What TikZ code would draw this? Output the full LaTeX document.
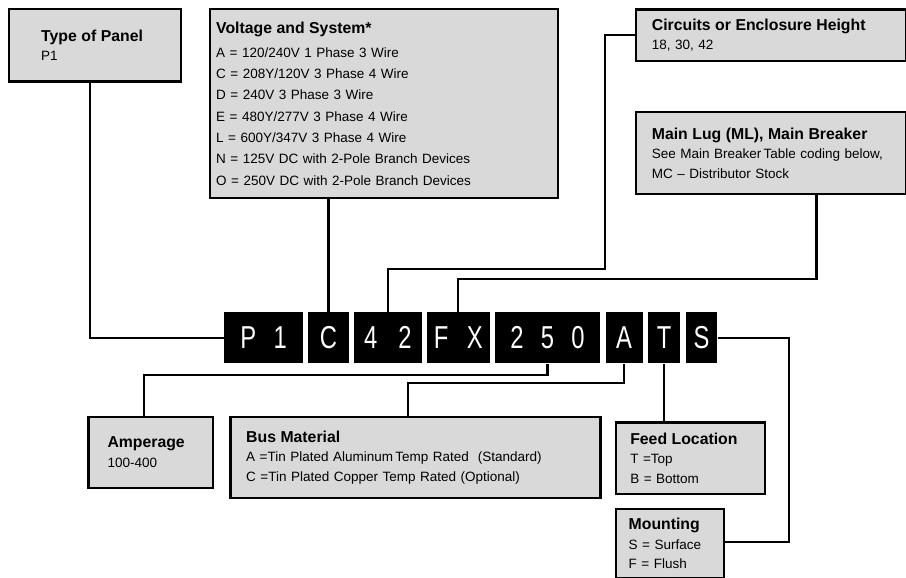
\documentclass[tikz,border=0pt]{standalone}
\usepackage{fontspec}
\setmainfont{Liberation Sans}
\newfontfamily\codefont[FakeStretch=0.75]{Liberation Sans}
\usetikzlibrary{positioning}
\definecolor{boxgray}{RGB}{217,217,217}
\newcommand{\boxtitle}[1]{{\bfseries\fontsize{15.8}{19.5}\selectfont #1}}

\begin{document}
\begin{tikzpicture}[x=1pt,y=-1pt,
    infobox/.style={draw=black, line width=2.4pt, fill=boxgray, anchor=north west,
      align=left, inner ysep=0pt, font=\fontsize{13.5}{19.5}\selectfont},
    codeblock/.style={fill=black, text=white, minimum height=51pt, inner sep=0pt,
      font=\codefont\fontsize{31.7}{32}\selectfont},
    link/.style={line width=2.3pt}]
  \fill[white] (0,0) rectangle (906,578);
  \useasboundingbox (0,0) rectangle (906,578);

  % description boxes
  \node[infobox, inner xsep=32.5pt, text width=107.2pt, minimum height=72.3pt] (panel) at (7.5,8.1)
    {\boxtitle{Type of Panel}\\ P1};
  \node[infobox, inner xsep=6.5pt, text width=335pt, minimum height=188.4pt,
    font=\fontsize{13.5}{21.3}\selectfont] (volt) at (208.5,8.1)
    {\boxtitle{Voltage and System*}\\[2.7pt]
     A = 120/240V 1 Phase 3 Wire\\
     C = 208Y/120V 3 Phase 4 Wire\\
     D = 240V 3 Phase 3 Wire\\
     E = 480Y/277V 3 Phase 4 Wire\\
     L = 600Y/347V 3 Phase 4 Wire\\
     N = 125V DC with 2-Pole Branch Devices\\
     O = 250V DC with 2-Pole Branch Devices};
  \node[infobox, inner xsep=15.7pt, text width=238.6pt, minimum height=51.7pt] (circ) at (635,8.3)
    {\boxtitle{Circuits or Enclosure Height}\\ 18, 30, 42};
  \node[infobox, inner xsep=15.7pt, text width=238.6pt, minimum height=81.7pt] (mlug) at (635,111)
    {\boxtitle{Main Lug (ML), Main Breaker}\\
     See Main Breaker\,Table coding below,\\
     MC -- Distributor Stock};
  \node[infobox, inner xsep=19pt, text width=86.2pt, minimum height=70.7pt] (amp) at (87.3,415.8)
    {\boxtitle{Amperage}\\ 100-400};
  \node[infobox, inner xsep=15.6pt, text width=338.6pt, minimum height=80.7pt] (bus) at (229.4,415.8)
    {\boxtitle{Bus Material}\\
     A =Tin Plated Aluminum\,Temp Rated\ \ (Standard)\\
     C =Tin Plated Copper Temp Rated (Optional)};
  \node[infobox, inner xsep=14.3pt, text width=120.5pt, minimum height=71.5pt] (feed) at (614.8,421.3)
    {\boxtitle{Feed Location}\\ T =Top\\ B = Bottom};
  \node[infobox, inner xsep=12.7pt, text width=82.6pt, minimum height=69.5pt] (mount) at (614.8,507.6)
    {\boxtitle{Mounting}\\ S = Surface\\ F = Flush};

  % catalogue number
  \node[codeblock, minimum width=78.7pt, anchor=west] (blkP1) at (224,337.8) {P\hspace{17.5pt}1};
  \node[codeblock, minimum width=40.7pt, right=4.8pt of blkP1] (blkC) {C};
  \node[codeblock, minimum width=67.6pt, right=4.8pt of blkC] (blk42) {4\hspace{21pt}2};
  \node[codeblock, minimum width=62.8pt, right=4.8pt of blk42] (blkFX) {F\hspace{18.5pt}X};
  \node[codeblock, minimum width=105.5pt, right=4.8pt of blkFX] (blk250) {2\hspace{17.3pt}5\hspace{17.3pt}0};
  \node[codeblock, minimum width=37pt, right=4.8pt of blk250] (blkA) {A};
  \node[codeblock, minimum width=32.7pt, right=4.8pt of blkA] (blkT) {T};
  \node[codeblock, minimum width=31.7pt, right=4.8pt of blkT] (blkS) {S};

  % bends
  \coordinate (bend42) at (605.3,269);
  \coordinate (bendFX) at (816.5,279);
  \coordinate (bendAmp) at (144,375);
  \coordinate (bendBus) at (408,383.3);
  \coordinate (bendMnt) at (789.3,542.3);

  % connectors
  \draw[link] ([xshift=82.5pt]panel.south west) |- (blkP1.west);
  \draw[link] (blkC.north) -- (blkC.north |- volt.south);
  \draw[link] (circ.west) -| (bend42) -| (blk42.north);
  \draw[link] (bendFX |- mlug.south) -- (bendFX) -| (blkFX.north);
  \draw[link] (blk250.south) |- (bendAmp) -- (bendAmp |- amp.north);
  \draw[link] (blkA.south) |- (bendBus) -- (bendBus |- bus.north);
  \draw[link] (blkT.south) -- (blkT.south |- feed.north);
  \draw[link] (blkS.east) -| (bendMnt) -- (bendMnt -| mount.east);
\end{tikzpicture}
\end{document}
